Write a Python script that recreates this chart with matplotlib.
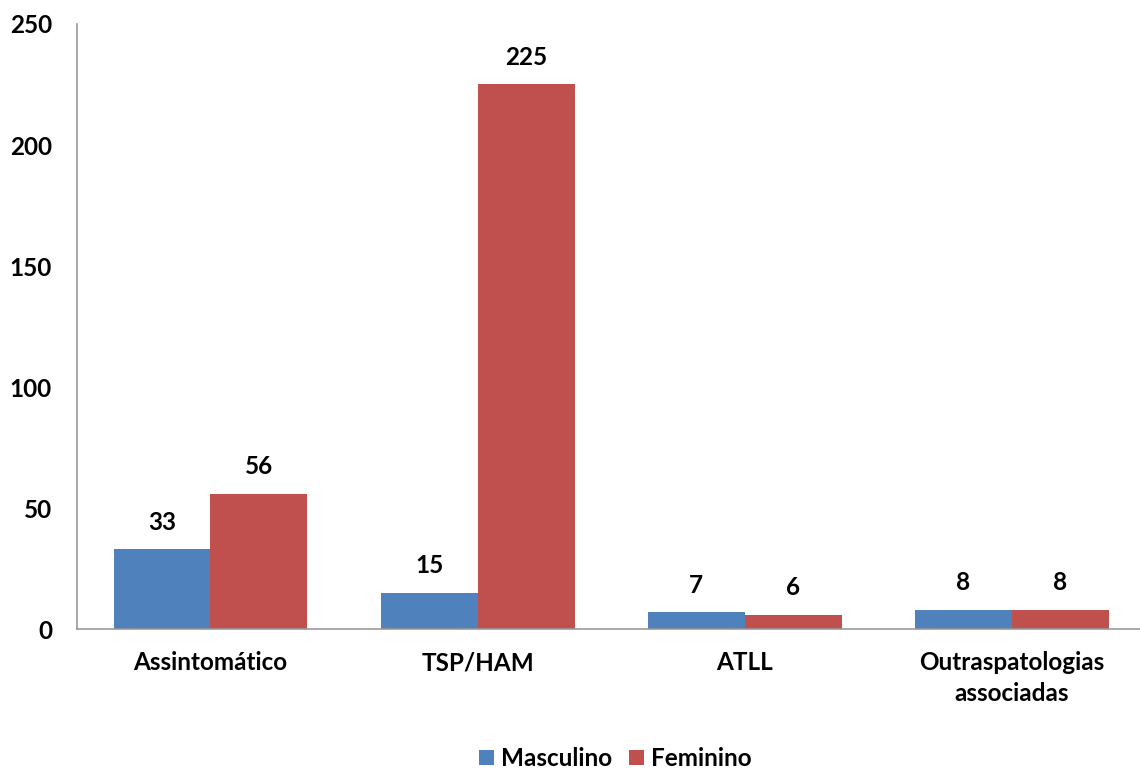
import numpy as np
import matplotlib
matplotlib.use("Agg")
import matplotlib.pyplot as plt

categories = ["Assintomático", "TSP/HAM", "ATLL", "Outraspatologias\nassociadas"]
masculino = [33, 15, 7, 8]
feminino = [56, 225, 6, 8]
yticks = [0, 50, 100, 150, 200, 250]

plt.rcParams["font.family"] = ["Lato", "DejaVu Sans"]
plt.rcParams["font.weight"] = "bold"
fs = 17.5

fig = plt.figure(figsize=(11.4, 7.69), dpi=100)
ax = fig.add_axes([0.0675, 0.182, 0.9325, 0.7868])

x = np.arange(len(categories))
w = 0.363
b1 = ax.bar(x - w / 2, masculino, w, color="#4f81bd", label="Masculino")
b2 = ax.bar(x + w / 2, feminino, w, color="#c0504d", label="Feminino")

for bars, vals in ((b1, masculino), (b2, feminino)):
    for rect, v in zip(bars, vals):
        ax.annotate(str(v), (rect.get_x() + rect.get_width() / 2, v),
                    xytext=(0, 11), textcoords="offset points",
                    ha="center", va="bottom", fontsize=fs, fontweight="bold")

ax.set_xlim(-0.5, len(categories) - 0.52)
ax.set_ylim(0, 250)
ax.set_yticks(yticks)
ax.set_xticks(x)
ax.set_xticklabels(categories, fontsize=fs, fontweight="bold", linespacing=1.4)
ax.tick_params(axis="y", length=0, labelsize=fs, pad=18)
ax.tick_params(axis="x", length=0, pad=16)
for lbl in ax.get_yticklabels():
    lbl.set_fontweight("bold")

for s in ("top", "right"):
    ax.spines[s].set_visible(False)
for s in ("left", "bottom"):
    ax.spines[s].set_color("#999999")
    ax.spines[s].set_linewidth(1.2)

fig.legend(handles=[b1, b2], loc="lower center", bbox_to_anchor=(0.54, -0.03),
           ncol=2, frameon=False, fontsize=fs, handlelength=0.6,
           handleheight=0.6, handletextpad=0.3, columnspacing=0.7)

fig.savefig("out.png", dpi=100)
